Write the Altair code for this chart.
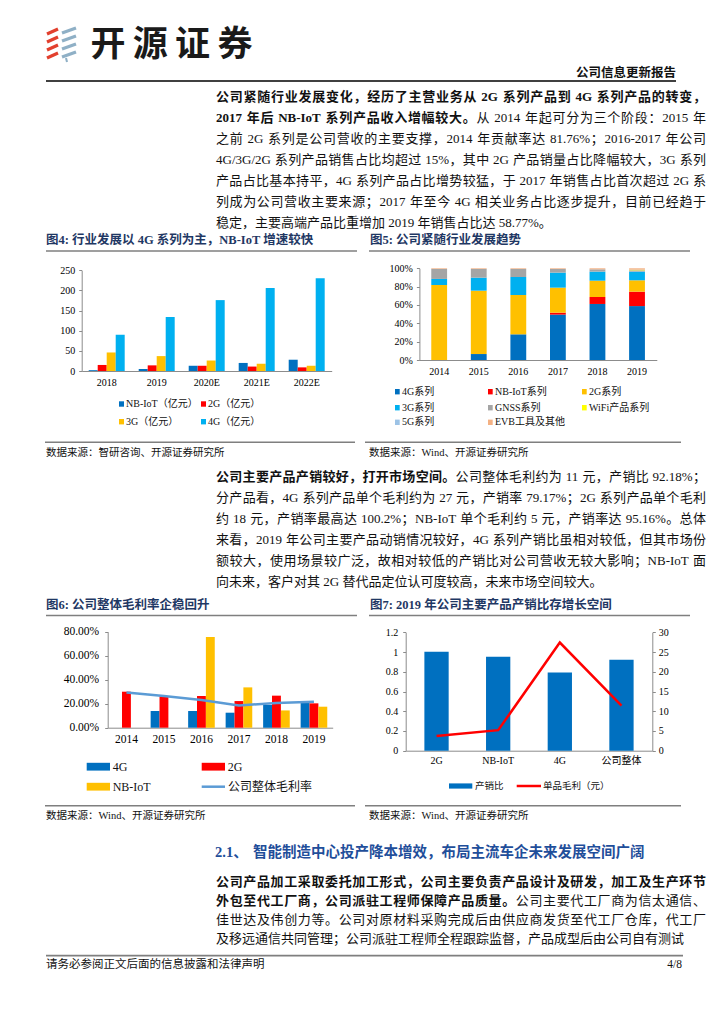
import altair as alt
import pandas as pd

# ------------------------------------------------------------------ data
fig4_years = ["2018", "2019", "2020E", "2021E", "2022E"]
fig4_series = ["NB-IoT（亿元）", "2G（亿元）", "3G（亿元）", "4G（亿元）"]
fig4_nbiot = [2, 5, 13, 20, 28]
fig4_2g = [15, 14, 13, 11, 9]
fig4_3g = [46, 37, 26, 18, 13]
fig4_4g = [90, 134, 176, 206, 230]
fig4_ticks = [0, 50, 100, 150, 200, 250]
fig4_colors = ["#0070C0", "#FF0000", "#FFC000", "#00B0F0"]

fig5_years = ["2014", "2015", "2016", "2017", "2018", "2019"]
fig5_series = ["4G系列", "NB-IoT系列", "2G系列", "3G系列", "GNSS系列",
               "WiFi产品系列", "5G系列", "EVB工具及其他"]
fig5_4g = [0.0, 6.5, 28.0, 49.5, 61.1, 58.8]
fig5_nbiot = [0.0, 0.0, 0.0, 2.1, 7.6, 15.7]
fig5_2g = [81.8, 69.1, 42.9, 27.3, 17.8, 12.4]
fig5_3g = [6.6, 14.2, 19.6, 16.4, 9.9, 9.5]
fig5_gnss = [10.9, 9.5, 8.8, 4.0, 2.5, 1.4]
fig5_wifi = [0.0, 0.0, 0.0, 0.0, 0.0, 0.5]
fig5_5g = [0.0, 0.0, 0.0, 0.0, 0.0, 0.2]
fig5_evb = [0.7, 0.7, 0.7, 0.7, 1.1, 1.5]
fig5_ticks = [0, 20, 40, 60, 80, 100]
fig5_colors = ["#0070C0", "#FF0000", "#FFC000", "#00B0F0", "#A5A5A5",
               "#FFFF00", "#9DC3E6", "#F4B183"]

fig6_years = ["2014", "2015", "2016", "2017", "2018", "2019"]
fig6_series = ["4G", "2G", "NB-IoT"]
fig6_4g = [None, 13.9, 13.9, 12.5, 18.9, 21.0]
fig6_2g = [30.0, 26.1, 26.4, 22.2, 26.7, 20.3]
fig6_nbiot = [None, None, 75.6, 33.6, 14.4, 17.5]
fig6_total = [29.4, 26.4, 23.1, 18.6, 20.6, 21.7]
fig6_total_name = "公司整体毛利率"
fig6_ticks = [0, 20, 40, 60, 80]
fig6_colors = ["#0070C0", "#FF0000", "#FFC000"]
fig6_line_color = "#5B9BD5"

fig7_cats = ["2G", "NB-IoT", "4G", "公司整体"]
fig7_ratio = [1.002, 0.9516, 0.7917, 0.9218]
fig7_profit = [3.7, 5.2, 27.4, 11.4]
fig7_left_ticks = [0, 0.2, 0.4, 0.6, 0.8, 1, 1.2]
fig7_right_ticks = [0, 5, 10, 15, 20, 25, 30]
fig7_names = ["产销比", "单品毛利（元）"]
fig7_bar_color = "#0070C0"
fig7_line_color = "#FF0000"

# ------------------------------------------------------------------ texts
brand = "开源证券"
report_type = "公司信息更新报告"
para1 = [
    [("公司紧随行业发展变化，经历了主营业务从 2G 系列产品到 4G 系列产品的转变，", True)],
    [("2017 年后 NB-IoT 系列产品收入增幅较大。", True), ("从 2014 年起可分为三个阶段：2015 年", False)],
    [("之前 2G 系列是公司营收的主要支撑，2014 年贡献率达 81.76%；2016-2017 年公司", False)],
    [("4G/3G/2G 系列产品销售占比均超过 15%，其中 2G 产品销量占比降幅较大，3G 系列", False)],
    [("产品占比基本持平，4G 系列产品占比增势较猛，于 2017 年销售占比首次超过 2G 系", False)],
    [("列成为公司营收主要来源；2017 年至今 4G 相关业务占比逐步提升，目前已经趋于", False)],
    [("稳定，主要高端产品比重增加 2019 年销售占比达 58.77%。", False)],
]
para2 = [
    [("公司主要产品产销较好，打开市场空间。", True), ("公司整体毛利约为 11 元，产销比 92.18%；", False)],
    [("分产品看，4G 系列产品单个毛利约为 27 元，产销率 79.17%；2G 系列产品单个毛利", False)],
    [("约 18 元，产销率最高达 100.2%；NB-IoT 单个毛利约 5 元，产销率达 95.16%。总体", False)],
    [("来看，2019 年公司主要产品动销情况较好，4G 系列产销比虽相对较低，但其市场份", False)],
    [("额较大，使用场景较广泛，故相对较低的产销比对公司营收无较大影响；NB-IoT 面", False)],
    [("向未来，客户对其 2G 替代品定位认可度较高，未来市场空间较大。", False)],
]
heading_num = "2.1、"
heading_text = "智能制造中心投产降本增效，布局主流车企未来发展空间广阔"
para3 = [
    [("公司产品加工采取委托加工形式，公司主要负责产品设计及研发，加工及生产环节", True)],
    [("外包至代工厂商，公司派驻工程师保障产品质量。", True), ("公司主要代工厂商为信太通信、", False)],
    [("佳世达及伟创力等。公司对原材料采购完成后由供应商发货至代工厂仓库，代工厂", False)],
    [("及移远通信共同管理；公司派驻工程师全程跟踪监督，产品成型后由公司自有测试", False)],
]
fig4_title = "图4:  行业发展以 4G 系列为主，NB-IoT 增速较快"
fig5_title = "图5:  公司紧随行业发展趋势"
fig6_title = "图6:  公司整体毛利率企稳回升"
fig7_title = "图7:  2019 年公司主要产品产销比存增长空间"
src4 = "数据来源：智研咨询、开源证券研究所"
src_wind = "数据来源：Wind、开源证券研究所"
footer_text = "请务必参阅正文后面的信息披露和法律声明"
page_no = "4/8"

# ------------------------------------------------------------------ layout helpers
PW, PH = 708, 1008
M = 8


def X(v):
    return v - M


def Y(v):
    return v - M


SERIF = "Liberation Serif, Noto Sans CJK SC"
SANS = "Noto Sans CJK SC"
NAVY = "#1F3864"
HEAD_BLUE = "#1F4E9A"
LINE_GRAY = "#7F7F7F"
AXIS_GRAY = "#8C8C8C"
BODY = "#111111"

TEXTS, RULES, RECTS = [], [], []


def add_text(t, x, y, size, color=BODY, bold=False, align="left", font=SERIF):
    TEXTS.append(dict(t=t, x=X(x), y=Y(y), s=size, c=color, b=bold, a=align, f=font))


def add_rule(x1, y1, x2, y2, color=LINE_GRAY, w=1.5):
    RULES.append(dict(x=X(x1), y=Y(y1), x2=X(x2), y2=Y(y2), c=color, w=w))


def add_rect(x1, y1, x2, y2, color):
    RECTS.append(dict(x=X(x1), y=Y(y1), x2=X(x2), y2=Y(y2), c=color))


LAT_R = {".": .25, "%": .833, "/": .278, "-": .333, "G": .722, "N": .722,
         "B": .667, "I": .333, "o": .5, "T": .611}
LAT_B = {".": .25, "%": 1.0, "/": .278, "-": .333, "G": .778, "N": .722,
         "B": .667, "I": .389, "o": .5, "T": .667}


def is_wide(ch):
    return ord(ch) >= 0x2E80


def split_units(s):
    units, buf = [], ""
    for ch in s:
        if is_wide(ch) or ch == " ":
            if buf:
                units.append(buf)
                buf = ""
            units.append(ch)
        else:
            buf += ch
    if buf:
        units.append(buf)
    return units


def unit_w(u, size, bold):
    if len(u) == 1 and is_wide(u):
        return size
    if u == " ":
        return .25 * size
    tab = LAT_B if bold else LAT_R
    return sum(tab.get(c, .5) for c in u) * size


def add_par_line(segments, y, justify, x0=216, x1=706, size=13):
    units = []
    for text, bold in segments:
        for u in split_units(text):
            units.append((u, bold))
    widths = [unit_w(u, size, b) for u, b in units]
    gap = (x1 - x0 - sum(widths)) / (len(units) - 1) if justify else 0
    x = x0
    for (u, b), w in zip(units, widths):
        if u != " ":
            add_text(u, x, y, size, bold=b)
        x += w + gap


def add_par(lines, y0, dy):
    for i, segs in enumerate(lines):
        add_par_line(segs, y0 + i * dy, justify=(i < len(lines) - 1))


# ---- header
for y0 in [31, 39, 47, 55]:
    add_rule(47, y0 + 3, 58, y0 - 2, color="#E2402E", w=3.2)
for y0 in [30, 38, 46, 54]:
    add_rule(62, y0 + 3, 76, y0 - 2, color="#8FB0C6", w=3.2)
add_rule(66, 58, 67, 62, color="#8FB0C6", w=2)
for i, ch in enumerate(brand):
    add_text(ch, 108 + 42.3 * i, 45, 35, color="#1A1A1A", bold=True, align="center", font=SANS)
add_text(report_type, 676, 73, 12.5, bold=True, align="right")
add_rule(46, 81, 676, 81, color="#000000", w=1.5)

# ---- paragraphs
add_par(para1, 97, 21.0)
add_par(para2, 477, 21.0)
add_text(heading_num, 215, 853, 14.5, color=HEAD_BLUE, bold=True)
add_text(heading_text, 253, 853, 14.5, color=HEAD_BLUE, bold=True)
add_par(para3, 882, 19.1)

# ---- figure frames
for (t, x, y) in [(fig4_title, 46, 240), (fig5_title, 370, 240),
                  (fig6_title, 46, 605), (fig7_title, 370, 605)]:
    add_text(t, x, y, 12.5, color=NAVY, bold=True)
for (x1, x2, y) in [(46, 357, 251), (369, 690, 251), (46, 357, 615.5), (369, 690, 615.5)]:
    add_rule(x1, y, x2, y)
for (x1, x2, y) in [(45, 355, 442.3), (365, 681, 442.3), (45, 355, 805.7), (365, 681, 805.7)]:
    add_rule(x1, y, x2, y)
add_text(src4, 46, 452.6, 10.5)
add_text(src_wind, 369, 452.6, 10.5)
add_text(src_wind, 46, 816, 10.5)
add_text(src_wind, 369, 816, 10.5)

# ---- footer
add_rule(46, 955.7, 683, 955.7, w=1.8)
add_text(footer_text, 46, 965, 11.5)
add_text(page_no, 682, 965, 11.5, align="right")

# ---- manual legends
for i, (s, c) in enumerate(zip(fig4_series, fig4_colors)):
    lx = 119 if i % 2 == 0 else 201
    ly = 404 if i < 2 else 421.7
    add_rect(lx, ly - 2.7, lx + 5, ly + 2.7, c)
    add_text(s, lx + 7, ly, 10)
for i, (s, c) in enumerate(zip(fig5_series, fig5_colors)):
    lx = [395, 488, 582][i % 3]
    ly = [391.7, 407.7, 422.3][i // 3]
    add_rect(lx, ly - 2.7, lx + 4.7, ly + 2.7, c)
    add_text(s, lx + 7, ly, 10)
for i, (s, c) in enumerate(zip(fig6_series, fig6_colors)):
    lx = 86.7 if i % 2 == 0 else 201.7
    ly = 766.7 if i < 2 else 786.7
    add_rect(lx, ly - 3.9, lx + 23.3, ly + 3.9, c)
    add_text(s, lx + 26, ly, 12)
add_rule(201.7, 786.7, 225, 786.7, color=fig6_line_color, w=2.5)
add_text(fig6_total_name, 228, 786.7, 12)
add_rect(449, 783.4, 472.3, 788.6, fig7_bar_color)
add_text(fig7_names[0], 475, 786, 9.5)
add_rule(516.7, 786, 541, 786, color=fig7_line_color, w=2.5)
add_text(fig7_names[1], 543, 786, 9.5)


# ------------------------------------------------------------------ chart helpers
def x_axis(y_page, size, pad):
    return alt.Axis(orient="bottom", offset=Y(y_page) - PH, title=None, labelAngle=0,
                    ticks=False, tickSize=0, labelPadding=pad, labelFont=SERIF,
                    labelFontSize=size, labelColor="#000000", domainColor=AXIS_GRAY,
                    domainWidth=1, grid=False)


def y_axis(x_page, orient, size, values, pad=4, fmt=None, expr=None):
    kw = dict(orient=orient, title=None, grid=False, values=values, labelFont=SERIF,
              labelFontSize=size, labelColor="#000000", domainColor=AXIS_GRAY,
              tickColor=AXIS_GRAY, tickSize=3, labelPadding=pad, labelOverlap=False)
    kw["offset"] = -X(x_page) if orient == "left" else X(x_page) - PW
    if fmt:
        kw["format"] = fmt
    if expr:
        kw["labelExpr"] = expr
    return alt.Axis(**kw)


layers = []

layers.append(alt.Chart(pd.DataFrame(RULES)).mark_rule().encode(
    x=alt.X("x:Q", scale=None, axis=None), x2="x2:Q",
    y=alt.Y("y:Q", scale=None, axis=None), y2="y2:Q",
    color=alt.Color("c:N", scale=None, legend=None),
    strokeWidth=alt.StrokeWidth("w:Q", scale=None, legend=None)))
layers.append(alt.Chart(pd.DataFrame(RECTS)).mark_rect().encode(
    x=alt.X("x:Q", scale=None, axis=None), x2="x2:Q",
    y=alt.Y("y:Q", scale=None, axis=None), y2="y2:Q",
    color=alt.Color("c:N", scale=None, legend=None)))

# ---- fig 4: grouped bars
df4 = pd.DataFrame({
    "year": fig4_years * 4,
    "series": [s for s in fig4_series for _ in fig4_years],
    "value": fig4_nbiot + fig4_2g + fig4_3g + fig4_4g,
})
layers.append(alt.Chart(df4).mark_bar().encode(
    x=alt.X("year:N", scale=alt.Scale(type="band", domain=fig4_years, range=[X(81.7), X(331.7)],
                                      paddingInner=0.28, paddingOuter=0.14),
            axis=x_axis(371, 10, 6)),
    xOffset=alt.XOffset("series:N", scale=alt.Scale(domain=fig4_series, paddingInner=0, paddingOuter=0)),
    y=alt.Y("value:Q", scale=alt.Scale(domain=[0, 250], range=[Y(371), Y(270.3)], nice=False, zero=True),
            axis=y_axis(81.7, "left", 10, fig4_ticks)),
    color=alt.Color("series:N", scale=alt.Scale(domain=fig4_series, range=fig4_colors), legend=None),
))

# ---- fig 5: stacked share bars
rows5 = []
for si, (s, vals) in enumerate(zip(fig5_series, [fig5_4g, fig5_nbiot, fig5_2g, fig5_3g, fig5_gnss,
                                                 fig5_wifi, fig5_5g, fig5_evb])):
    for yr, v in zip(fig5_years, vals):
        rows5.append(dict(year=yr, series=s, value=v, ord=si))
df5 = pd.DataFrame(rows5)
layers.append(alt.Chart(df5).mark_bar().encode(
    x=alt.X("year:N", scale=alt.Scale(type="band", domain=fig5_years, range=[X(419.4), X(656.8)],
                                      paddingInner=0.6, paddingOuter=0.3),
            axis=x_axis(360, 10, 6)),
    y=alt.Y("value:Q", stack="zero",
            scale=alt.Scale(domain=[0, 100], range=[Y(360), Y(268.3)], nice=False),
            axis=y_axis(419.4, "left", 10, fig5_ticks, expr="datum.value + '%'")),
    color=alt.Color("series:N", scale=alt.Scale(domain=fig5_series, range=fig5_colors), legend=None),
    order=alt.Order("ord:Q", sort="ascending"),
))

# ---- fig 6: grouped bars + overall margin line
rows6 = []
for s, vals in zip(fig6_series, [fig6_4g, fig6_2g, fig6_nbiot]):
    for yr, v in zip(fig6_years, vals):
        if v is not None:
            rows6.append(dict(year=yr, series=s, value=v))
df6 = pd.DataFrame(rows6)
y6_scale = alt.Scale(domain=[0, 80], range=[Y(727.7), Y(631.7)], nice=False)
layers.append(alt.Chart(df6).mark_bar().encode(
    x=alt.X("year:N", scale=alt.Scale(type="band", domain=fig6_years, range=[X(107.7), X(332.7)],
                                      paddingInner=0.29, paddingOuter=0.145),
            axis=x_axis(727.7, 11.5, 6)),
    xOffset=alt.XOffset("series:N", scale=alt.Scale(domain=fig6_series, paddingInner=0, paddingOuter=0)),
    y=alt.Y("value:Q", scale=y6_scale,
            axis=y_axis(107.7, "left", 11.5, fig6_ticks, pad=6,
                        expr="format(datum.value, '.2f') + '%'")),
    color=alt.Color("series:N", scale=alt.Scale(domain=fig6_series, range=fig6_colors), legend=None),
))
df6l = pd.DataFrame({"year": fig6_years, "value": fig6_total})
layers.append(alt.Chart(df6l).mark_line(color=fig6_line_color, strokeWidth=2.5).encode(
    x=alt.X("year:N", scale=alt.Scale(type="point", domain=fig6_years, range=[X(107.7), X(332.7)],
                                      padding=0.5), axis=None),
    y=alt.Y("value:Q", scale=y6_scale, axis=None),
))

# ---- fig 7: ratio bars + unit profit line (dual axis)
df7 = pd.DataFrame({"cat": fig7_cats, "ratio": fig7_ratio, "profit": fig7_profit})
layers.append(alt.Chart(df7).mark_bar(color=fig7_bar_color).encode(
    x=alt.X("cat:N", sort=fig7_cats,
            scale=alt.Scale(type="band", domain=fig7_cats, range=[X(405.7), X(652.3)],
                            paddingInner=0.606, paddingOuter=0.303),
            axis=x_axis(750.7, 10, 5)),
    y=alt.Y("ratio:Q", scale=alt.Scale(domain=[0, 1.2], range=[Y(750.7), Y(632.3)], nice=False),
            axis=y_axis(405.7, "left", 10, fig7_left_ticks, pad=5, fmt="~g")),
))
layers.append(alt.Chart(df7).mark_line(color=fig7_line_color, strokeWidth=2.5).encode(
    x=alt.X("cat:N", sort=fig7_cats,
            scale=alt.Scale(type="point", domain=fig7_cats, range=[X(405.7), X(652.3)], padding=0.5),
            axis=None),
    y=alt.Y("profit:Q", scale=alt.Scale(domain=[0, 30], range=[Y(750.7), Y(632.3)], nice=False),
            axis=y_axis(652.3, "right", 10, fig7_right_ticks, pad=3)),
))

# ---- text layers grouped by font / weight / alignment
tdf = pd.DataFrame(TEXTS)
for (f, b, a), g in tdf.groupby(["f", "b", "a"]):
    layers.append(alt.Chart(g[["t", "x", "y", "s", "c"]]).mark_text(
        font=f, fontWeight="bold" if b else "normal", align=a, baseline="middle").encode(
        x=alt.X("x:Q", scale=None, axis=None),
        y=alt.Y("y:Q", scale=None, axis=None),
        text="t:N",
        size=alt.Size("s:Q", scale=None, legend=None),
        color=alt.Color("c:N", scale=None, legend=None),
    ))

chart = alt.layer(*layers).resolve_scale(
    x="independent", y="independent", color="independent", xOffset="independent"
).resolve_axis(
    x="independent", y="independent"
).properties(
    width=PW, height=PH, autosize=alt.AutoSizeParams(type="none"), padding=0
).configure_view(stroke=None)

chart.save("out.html", embed_options={"renderer": "svg", "actions": False})
